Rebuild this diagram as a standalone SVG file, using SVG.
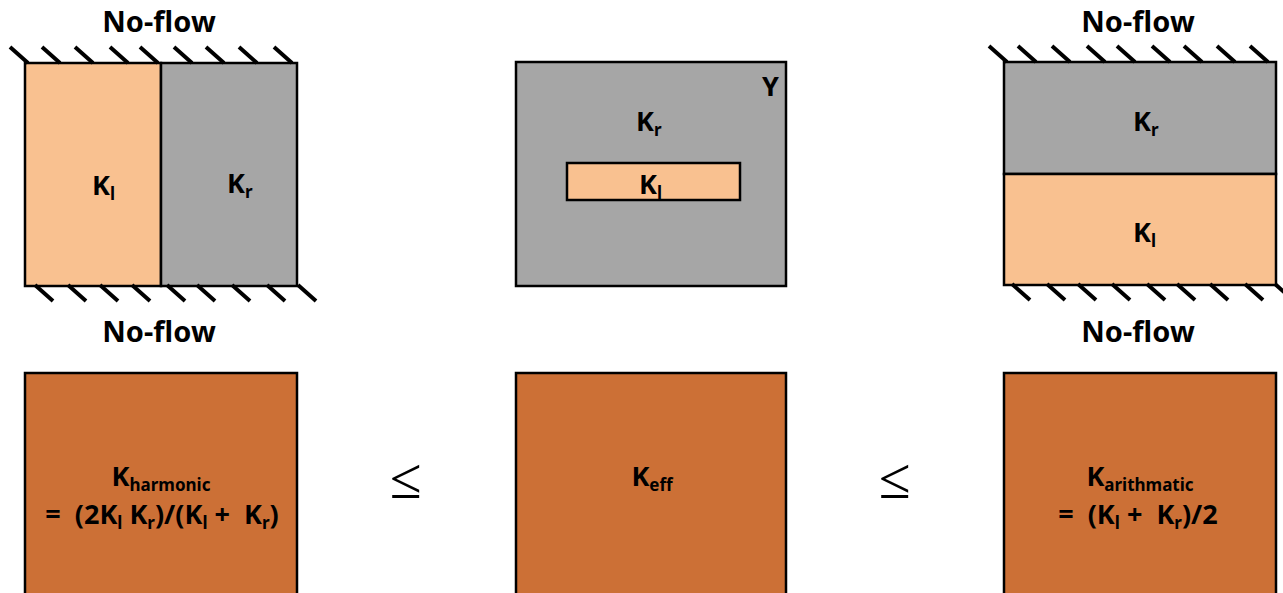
<svg xmlns="http://www.w3.org/2000/svg" width="1283" height="593" viewBox="0 0 1283 593">
<style>
.box{stroke:#000;stroke-width:2.5}
.peach{fill:#F9C190}
.gray{fill:#A6A6A6}
.brown{fill:#CC7036}
.h{stroke:#000;stroke-width:4;stroke-linecap:butt}
text{font-family:"Noto Sans","Open Sans","Liberation Sans",sans-serif;font-weight:bold;fill:#000;white-space:pre}
.t{font-size:29px}
.k{font-size:27px}
.s{font-size:17px}
.le{font-family:"Liberation Serif",serif;font-weight:normal;font-size:58px}
</style>
<defs>
<path id="ht" d="M-18,-16 L0,0"/>
<path id="hb" d="M0,0 L18,16"/>
</defs>
<g id="left-model">
<rect class="box peach" x="25" y="63" width="136" height="223"/>
<rect class="box gray" x="161" y="63" width="136" height="223"/>
<g id="left-hatch">
<use href="#ht" class="h" x="28" y="63"/><use href="#ht" class="h" x="60" y="63"/><use href="#ht" class="h" x="93" y="63"/><use href="#ht" class="h" x="128" y="63"/><use href="#ht" class="h" x="158" y="63"/><use href="#ht" class="h" x="192" y="63"/><use href="#ht" class="h" x="224" y="63"/><use href="#ht" class="h" x="257" y="63"/><use href="#ht" class="h" x="292" y="63"/>
<use href="#hb" class="h" x="35" y="285"/><use href="#hb" class="h" x="68" y="285"/><use href="#hb" class="h" x="100" y="285"/><use href="#hb" class="h" x="132" y="285"/><use href="#hb" class="h" x="167" y="285"/><use href="#hb" class="h" x="197" y="285"/><use href="#hb" class="h" x="232" y="285"/><use href="#hb" class="h" x="267" y="285"/><use href="#hb" class="h" x="298" y="285"/>
</g>
<text class="t" x="159" y="32" text-anchor="middle">No-flow</text>
<text class="t" x="159" y="342" text-anchor="middle">No-flow</text>
<text class="k" x="92" y="195">K<tspan class="s" dy="5">l</tspan></text>
<text class="k" x="227" y="193">K<tspan class="s" dy="5">r</tspan></text>
</g>
<g id="middle-model">
<rect class="box gray" x="516" y="62" width="270" height="224"/>
<rect class="box peach" x="567" y="163" width="173" height="37"/>
<text class="k" x="762" y="96">Y</text>
<text class="k" x="636" y="131">K<tspan class="s" dy="5">r</tspan></text>
<text class="k" x="639" y="194">K<tspan class="s" dy="5">l</tspan></text>
</g>
<g id="right-model">
<rect class="box gray" x="1004" y="62" width="272" height="112"/>
<rect class="box peach" x="1004" y="174" width="272" height="111"/>
<g id="right-hatch">
<use href="#ht" class="h" x="1007" y="62"/><use href="#ht" class="h" x="1036" y="62"/><use href="#ht" class="h" x="1070" y="62"/><use href="#ht" class="h" x="1105" y="62"/><use href="#ht" class="h" x="1135" y="62"/><use href="#ht" class="h" x="1170" y="62"/><use href="#ht" class="h" x="1202" y="62"/><use href="#ht" class="h" x="1235" y="62"/><use href="#ht" class="h" x="1268" y="62"/>
<use href="#hb" class="h" x="1012" y="284"/><use href="#hb" class="h" x="1047" y="284"/><use href="#hb" class="h" x="1078" y="284"/><use href="#hb" class="h" x="1112" y="284"/><use href="#hb" class="h" x="1147" y="284"/><use href="#hb" class="h" x="1177" y="284"/><use href="#hb" class="h" x="1210" y="284"/><use href="#hb" class="h" x="1245" y="284"/><use href="#hb" class="h" x="1275" y="284"/>
</g>
<text class="t" x="1138" y="32" text-anchor="middle">No-flow</text>
<text class="t" x="1138" y="342" text-anchor="middle">No-flow</text>
<text class="k" x="1133" y="131">K<tspan class="s" dy="5">r</tspan></text>
<text class="k" x="1133" y="242">K<tspan class="s" dy="5">l</tspan></text>
</g>
<g id="harmonic">
<rect class="box brown" x="25" y="373" width="272" height="240"/>
<text class="k" x="161" y="486" text-anchor="middle">K<tspan class="s" dy="5">harmonic</tspan></text>
<text class="k" x="162" y="524" text-anchor="middle">=  (2K<tspan class="s" dy="5">l</tspan><tspan dy="-5"> K</tspan><tspan class="s" dy="5">r</tspan><tspan dy="-5">)/(K</tspan><tspan class="s" dy="5">l</tspan><tspan dy="-5"> +  K</tspan><tspan class="s" dy="5">r</tspan><tspan dy="-5">)</tspan></text>
</g>
<g id="effective">
<rect class="box brown" x="516" y="373" width="270" height="240"/>
<text class="k" x="652" y="486" text-anchor="middle">K<tspan class="s" dy="5">eff</tspan></text>
</g>
<g id="arithmetic">
<rect class="box brown" x="1004" y="373" width="272" height="240"/>
<text class="k" x="1140" y="486" text-anchor="middle">K<tspan class="s" dy="5">arithmatic</tspan></text>
<text class="k" x="1138" y="524" text-anchor="middle">=  (K<tspan class="s" dy="5">l</tspan><tspan dy="-5"> +  K</tspan><tspan class="s" dy="5">r</tspan><tspan dy="-5">)/2</tspan></text>
</g>
<g id="relations">
<text class="le" x="406" y="498" text-anchor="middle">≤</text>
<text class="le" x="895" y="498" text-anchor="middle">≤</text>
</g>
</svg>
